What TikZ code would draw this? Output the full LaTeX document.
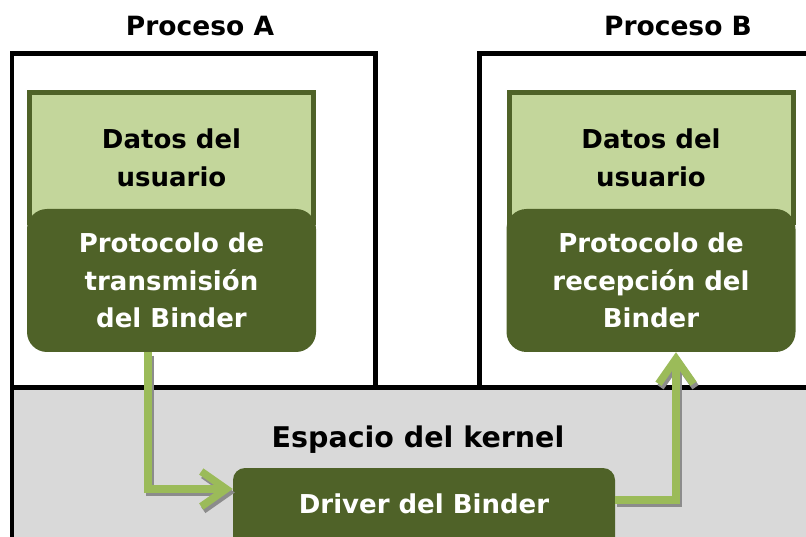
\documentclass[tikz,border=0pt]{standalone}
\usepackage{fontspec}
\setmainfont{DejaVu Sans}
\usetikzlibrary{arrows.meta}

\definecolor{olivedark}{HTML}{4F6228}
\definecolor{olivelight}{HTML}{C3D69B}
\definecolor{olivearrow}{HTML}{9BBB59}
\definecolor{kernelgray}{HTML}{D9D9D9}
\definecolor{shadowgray}{HTML}{8C8C8C}

\tikzset{
  boxtext/.style={font=\fontsize{26}{37.5}\selectfont\bfseries, align=center, inner sep=0pt},
  headtext/.style={font=\fontsize{26.5}{30}\selectfont\bfseries, inner sep=0pt},
  userdata/.style={boxtext, draw=olivedark, fill=olivelight, line width=5pt,
    minimum width=284pt, minimum height=130pt},
  protocol/.style={boxtext, text=white, fill=olivedark, rounded corners=20pt,
    minimum width=289pt, minimum height=143pt},
  driverbox/.style={font=\fontsize{26}{30}\selectfont\bfseries, inner sep=0pt,
    text=white, fill=olivedark, rounded corners=12pt, minimum width=382pt,
    text height=45pt, text depth=40pt},
  flowshadow/.style={shadowgray, line width=7.5pt, -{Straight Barb[length=25pt,width=35pt]},
    transform canvas={shift={(2pt,-3.5pt)}}},
  flow/.style={olivearrow, line width=7.5pt, -{Straight Barb[length=25pt,width=35pt]}}
}

\begin{document}
\begin{tikzpicture}[x=1pt, y=-1pt]
    \useasboundingbox (0,0) rectangle (806,537);
    \clip (0,0) rectangle (806,537);

    % Kernel space
    \fill [kernelgray] (12,387) rectangle (810,540);
    \draw [line width=4.5pt] (12,540) -- (12,387.5) -- (810,387.5);

    % Process boxes
    \draw [line width=4.5pt] (12,387.5) -- (12,53.5) -- (375.5,53.5) -- (375.5,387.5);
    \draw [line width=4.5pt] (479.5,387.5) -- (479.5,53.5) -- (810,53.5);

    % Titles
    \node [headtext, anchor=base] (procA) at (200,36) {Proceso A};
    \node [headtext, anchor=base] (procB) at (678,36) {Proceso B};
    \node [headtext, font=\fontsize{28.5}{32}\selectfont\bfseries, anchor=base] (kernel) at (418,447) {Espacio del kernel};

    % Process A
    \node [userdata] (dataA) at (171.5,158) {Datos del\\usuario};
    \node [protocol] (protoA) at (171.5,280.5) {Protocolo de\\transmisión\\del Binder};

    % Process B
    \node [userdata] (dataB) at (651,158) {Datos del\\usuario};
    \node [protocol] (protoB) at (651,280.5) {Protocolo de\\recepción del\\Binder};

    % Driver
    \node [driverbox, anchor=base] (driver) at (424,513) {Driver del Binder};

    % Flow (shadow first)
    \draw [flowshadow] ([xshift=-23.5pt]protoA.south) |- ([yshift=21.5pt]driver.west);
    \draw [flowshadow] ([yshift=10.5pt]driver.east) -| ([xshift=25pt]protoB.south);
    \draw [flow] ([xshift=-23.5pt]protoA.south) |- ([yshift=21.5pt]driver.west);
    \draw [flow] ([yshift=10.5pt]driver.east) -| ([xshift=25pt]protoB.south);
\end{tikzpicture}
\end{document}
